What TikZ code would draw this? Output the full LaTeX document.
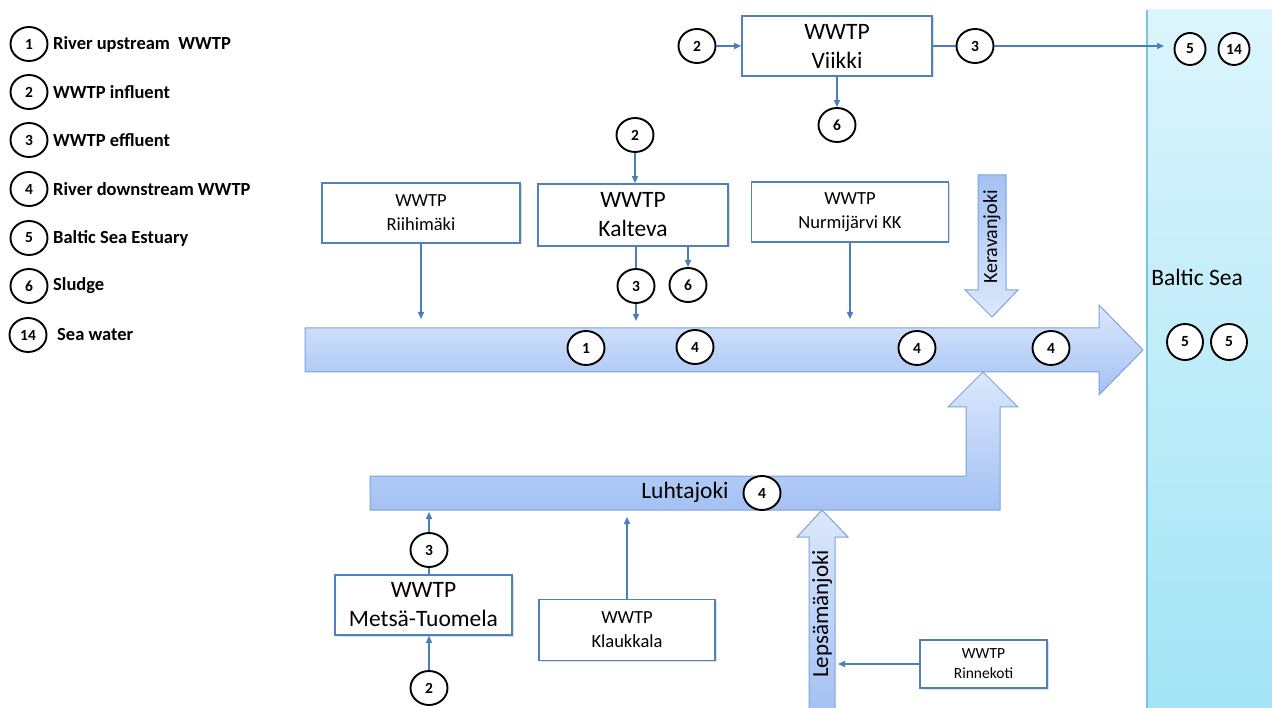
\documentclass[tikz,border=0pt]{standalone}
\usepackage{fontspec}
\setmainfont{Carlito}
\usetikzlibrary{arrows.meta,shapes.geometric,shadows}
\definecolor{boxblue}{HTML}{4F81BD}
\definecolor{linkblue}{HTML}{4A7EBB}
\definecolor{rivertop}{HTML}{DCE8FC}
\definecolor{riverbot}{HTML}{A3C1F3}
\definecolor{riverline}{HTML}{7FA2D8}
\definecolor{seatop}{HTML}{DCF5FC}
\definecolor{seabot}{HTML}{A3E4F6}
\definecolor{sealine}{HTML}{7CC3DD}
\begin{document}
\begin{tikzpicture}[x=1pt,y=-1pt,
  num/.style={ellipse, draw=black, line width=1.9pt, fill=white, minimum width=37pt, minimum height=34pt, inner sep=0pt, font=\fontsize{15.5}{17}\selectfont\bfseries},
  smallnum/.style={num, minimum width=31pt, minimum height=32pt},
  wbox/.style={rectangle, draw=boxblue, line width=1.6pt, fill=white, align=center, inner sep=0pt,
    drop shadow={shadow xshift=1.5pt, shadow yshift=-1.5pt, opacity=0.25}},
  big/.style={font=\fontsize{23.5}{29}\selectfont},
  small/.style={font=\fontsize{18.5}{24}\selectfont},
  tiny/.style={font=\fontsize{15.5}{20}\selectfont},
  conn/.style={draw=linkblue, line width=1.4pt, -{Triangle[length=7pt,width=6pt]}},
  plain/.style={draw=linkblue, line width=1.4pt},
  legend/.style={anchor=west, font=\fontsize{18.5}{20}\selectfont\bfseries, inner sep=0pt},
  river/.style={draw=riverline, line width=1pt, top color=rivertop, bottom color=riverbot},
  riverup/.style={draw=riverline, line width=1pt, top color=riverbot, bottom color=rivertop},
]
\useasboundingbox (0,0) rectangle (1272,708);

% Baltic Sea
\path[top color=seatop, bottom color=seabot] (1147,10) rectangle (1272,708);
\draw[sealine, line width=1.2pt] (1147,10) -- (1147,708);
\node[font=\fontsize{23.5}{26}\selectfont] (baltic) at (1197,277) {Baltic Sea};
\node[num, minimum width=36pt, minimum height=36pt] (s5a) at (1185,342) {5};
\node[num, minimum width=36pt, minimum height=36pt] (s5b) at (1229,342) {5};
\node[smallnum] (t5) at (1190,49) {5};
\node[smallnum] (t14) at (1234,49) {14};

% Legend
\foreach \n/\y/\t in {1/44/River upstream\ \ WWTP, 2/92/WWTP influent, 3/140/WWTP effluent, 4/189/River downstream WWTP, 5/238/Baltic Sea Estuary, 6/286/Sludge}{
  \node[num] (l\n) at (29,\y) {\n};
  \node[legend] (lt\n) at (53,\y) {\t};
}
\node[num] (l14) at (28,335) {14};
\node[legend] (lt14) at (57,335) {Sea water};

% Main river arrow
\path[river] (305,328) -- (1099,328) -- (1099,305) -- (1143,350) -- (1099,395) -- (1099,372) -- (305,372) -- cycle;
% Keravanjoki
\path[riverup] (978,175) -- (1006,175) -- (1006,290) -- (1018,290) -- (992,317) -- (965,290) -- (978,290) -- cycle;
\node[rotate=90, font=\fontsize{20}{24}\selectfont] (kerava) at (992,237) {Keravanjoki};
% Luhtajoki
\path[river] (370,476) -- (966,476) -- (966,407) -- (948,407) -- (983,372) -- (1018,407) -- (1000,407) -- (1000,510) -- (370,510) -- cycle;
\node[big] (luhta) at (685,492) {Luhtajoki};
\node[num] (lu4) at (762,493) {4};
% Lepsamanjoki
\path[river] (809,710) -- (809,537) -- (797,537) -- (822,510) -- (848,537) -- (835,537) -- (835,710) -- cycle;
\node[rotate=90, font=\fontsize{23}{24}\selectfont] (leps) at (822,614) {Lepsämänjoki};

% circles on main river
\node[num] (r1) at (586,348) {1};
\node[num] (r4a) at (695,347) {4};
\node[num] (r4b) at (917,348) {4};
\node[num] (r4c) at (1051,348) {4};

% Viikki
\node[wbox, big, minimum width=190pt, minimum height=60pt] (viikki) at (837,46) {WWTP\\Viikki};
\node[num] (v2) at (697,46) {2};
\node[num] (v3) at (975,46) {3};
\node[num] (v6) at (837,125) {6};
\coordinate (vend) at (1164,46);
\draw[conn] (v2) -- (viikki);
\draw[plain] (viikki) -- (v3);
\draw[conn] (v3) -- (vend);
\draw[conn] (viikki) -- (v6);

% Kalteva
\node[wbox, big, minimum width=190pt, minimum height=62pt] (kalteva) at (633,215) {WWTP\\Kalteva};
\node[num] (k2) at (635,135) {2};
\node[num] (k3) at (636,286) {3};
\node[num] (k6) at (688,285) {6};
\coordinate (kend) at (636,321);
\draw[conn] (k2) -- (k2 |- kalteva.north);
\draw[plain] (k3 |- kalteva.south) -- (k3);
\draw[conn] (k3) -- (kend);
\draw[conn] (k6 |- kalteva.south) -- (k6);

% Riihimaki
\node[wbox, small, minimum width=198pt, minimum height=60pt] (riihi) at (421,213) {WWTP\\Riihimäki};
\coordinate (riend) at (421,319);
\draw[conn] (riihi) -- (riend);

% Nurmijarvi
\node[wbox, small, minimum width=197pt, minimum height=60pt] (nurmi) at (850,212) {WWTP\\Nurmijärvi KK};
\coordinate (nuend) at (850,319);
\draw[conn] (nurmi) -- (nuend);

% Metsa-Tuomela
\node[wbox, big, minimum width=177pt, minimum height=60pt] (metsa) at (423.5,605) {WWTP\\Metsä-Tuomela};
\node[num] (m3) at (429,550) {3};
\node[num] (m2) at (429,688) {2};
\coordinate (mend) at (429,512);
\draw[plain] (m3 |- metsa.north) -- (m3);
\draw[conn] (m3) -- (mend);
\draw[conn] (m2) -- (m2 |- metsa.south);

% Klaukkala
\node[wbox, small, minimum width=176pt, minimum height=61pt] (klauk) at (627,630) {WWTP\\Klaukkala};
\coordinate (klend) at (627,517);
\draw[conn] (klauk) -- (klend);

% Rinnekoti
\node[wbox, tiny, minimum width=127pt, minimum height=48pt] (rinne) at (983.5,664) {WWTP\\Rinnekoti};
\coordinate (rnend) at (838,664);
\draw[conn] (rinne) -- (rnend);
\end{tikzpicture}
\end{document}
